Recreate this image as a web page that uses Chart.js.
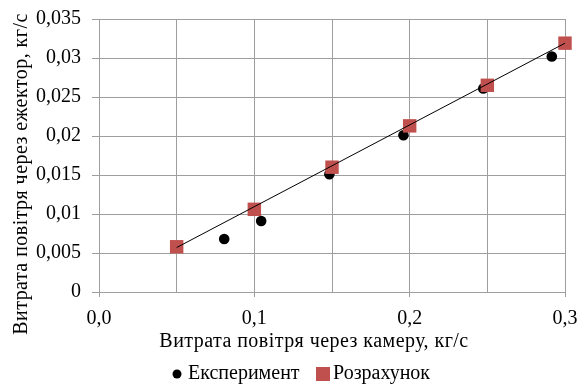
<!DOCTYPE html>
<html>
<head>
<meta charset="utf-8">
<script src="https://cdn.jsdelivr.net/npm/chart.js@4"></script>
<style>
    html, body { margin: 0; padding: 0; background: #fff; }
    #wrap { width: 579px; height: 386px; }
</style>
</head>
<body>
<div id="wrap"><canvas id="chart" width="579" height="386"></canvas></div>
<script>
// Дані з графіка
const expX = [0.0806, 0.1044, 0.1483, 0.196, 0.2474, 0.2915];
const expY = [0.0068, 0.0091, 0.0151, 0.0201, 0.0261, 0.0302];

const calcX = [0.05, 0.1, 0.15, 0.2, 0.25, 0.3];
const calcY = [0.0058, 0.0106, 0.016, 0.0213, 0.0265, 0.0319];

// Лінія тренду (кінці)
const trendX = [0.05, 0.3];
const trendY = [0.0057, 0.0319];

const xTitle = 'Витрата повітря через камеру, кг/с';
const yTitle = 'Витрата повітря через ежектор, кг/с';
const legendNames = ['Експеримент', 'Розрахунок'];

const FAMILY = '"Liberation Serif", "Times New Roman", serif';
const FONT = '20px ' + FAMILY;
const GRID = '#9e9e9e';
const RED = '#c0504d';

function toPoints(xs, ys) {
    return xs.map((x, i) => ({ x: x, y: ys[i] }));
}

function comma(v) {
    return String(v).replace('.', ',');
}

// Підписи осей і легенда
const extras = {
    id: 'extras',
    afterDraw(chart) {
        const ctx = chart.ctx;
        ctx.save();
        ctx.font = FONT;
        ctx.fillStyle = '#000';
        ctx.textBaseline = 'middle';
        ctx.textAlign = 'center';

        ctx.letterSpacing = '0.45px';
        ctx.fillText(xTitle, 314, 342);

        ctx.save();
        ctx.translate(22, 174);
        ctx.rotate(-Math.PI / 2);
        ctx.fillText(yTitle, 0, 0);
        ctx.restore();
        ctx.letterSpacing = '0px';

        // легенда
        ctx.textAlign = 'left';
        ctx.beginPath();
        ctx.arc(177, 374, 4.5, 0, Math.PI * 2);
        ctx.fill();
        ctx.fillText(legendNames[0], 188, 374);

        ctx.fillStyle = RED;
        ctx.fillRect(316, 367, 14, 14);
        ctx.fillStyle = '#000';
        ctx.fillText(legendNames[1], 333, 374);
        ctx.restore();
    }
};

new Chart(document.getElementById('chart'), {
    type: 'scatter',
    data: {
        datasets: [
            {
                label: legendNames[0],
                data: toPoints(expX, expY),
                pointStyle: 'circle',
                pointRadius: 5.3,
                pointHoverRadius: 5.3,
                backgroundColor: '#000',
                borderColor: '#000',
                borderWidth: 0,
                clip: false,
                order: 2
            },
            {
                label: legendNames[1],
                data: toPoints(calcX, calcY),
                pointStyle: 'rect',
                pointRadius: 9.5,
                pointHoverRadius: 9.5,
                backgroundColor: RED,
                borderColor: RED,
                borderWidth: 0,
                clip: false,
                order: 1
            },
            {
                type: 'line',
                label: 'trend',
                data: toPoints(trendX, trendY),
                borderColor: '#000',
                borderWidth: 1,
                pointRadius: 0,
                fill: false,
                clip: false,
                order: 0
            }
        ]
    },
    options: {
        responsive: false,
        animation: false,
        layout: { padding: { top: 19, right: 14, left: 0, bottom: 0 } },
        plugins: {
            legend: { display: false },
            tooltip: { enabled: false }
        },
        scales: {
            x: {
                type: 'linear',
                min: 0,
                max: 0.3,
                afterFit: scale => {
                    scale.height = 94;
                    scale.paddingLeft = 0;
                    scale.paddingRight = 0;
                },
                ticks: {
                    stepSize: 0.05,
                    maxRotation: 0,
                    autoSkip: false,
                    padding: 10,
                    color: '#000',
                    font: { family: FAMILY, size: 20 },
                    callback: v => {
                        const k = Math.round(v * 100);
                        return k % 10 === 0 ? comma((k / 100).toFixed(1)) : '';
                    }
                },
                grid: {
                    color: GRID,
                    lineWidth: 1,
                    tickLength: 5,
                    tickColor: c => (Math.round(c.tick.value * 100) % 10 === 0 ? GRID : 'rgba(0,0,0,0)')
                },
                border: { color: GRID }
            },
            y: {
                type: 'linear',
                min: 0,
                max: 0.035,
                afterFit: scale => {
                    scale.width = 99;
                    scale.paddingTop = 0;
                    scale.paddingBottom = 0;
                },
                ticks: {
                    stepSize: 0.005,
                    padding: 11,
                    color: '#000',
                    font: { family: FAMILY, size: 20 },
                    callback: v => comma(Math.round(v * 1000) / 1000)
                },
                grid: {
                    color: GRID,
                    lineWidth: 1,
                    tickLength: 7,
                    tickColor: GRID
                },
                border: { color: GRID }
            }
        }
    },
    plugins: [extras]
});
</script>
</body>
</html>
